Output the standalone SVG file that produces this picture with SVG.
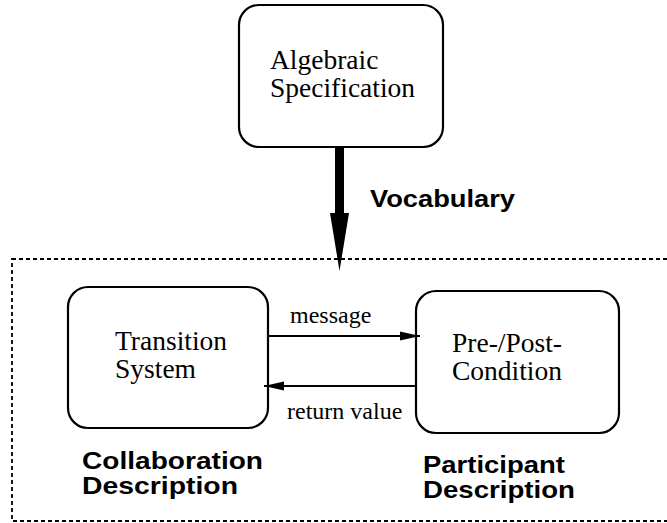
<svg xmlns="http://www.w3.org/2000/svg" width="667" height="523" viewBox="0 0 667 523">
<style>
.box{fill:#fff;stroke:#000;stroke-width:2.2}
.t{font-family:"Liberation Serif","Times New Roman",serif;font-size:27.5px;fill:#000}
.s{font-family:"Liberation Serif","Times New Roman",serif;font-size:24px;fill:#000}
.b{font-family:"Liberation Sans",Arial,sans-serif;font-size:24px;font-weight:bold;fill:#000}
.ln{stroke:#000;stroke-width:2;fill:none}
</style>
<defs>
<marker id="ah" markerWidth="20" markerHeight="10" refX="20" refY="5" orient="auto" markerUnits="userSpaceOnUse">
<path d="M0,0.5 L20,5 L0,9.5 Z" fill="#000"/>
</marker>
</defs>
<rect x="12" y="259" width="680" height="262" fill="none" stroke="#000" stroke-width="1.8" stroke-dasharray="4 3"/>
<g id="algebraic">
<rect class="box" x="239" y="5" width="204" height="142" rx="20"/>
<text class="t" x="270" y="69">Algebraic</text>
<text class="t" x="270" y="97">Specification</text>
</g>
<g id="transition">
<rect class="box" x="68" y="287" width="200" height="141" rx="20"/>
<text class="t" x="115" y="350">Transition</text>
<text class="t" x="115" y="378">System</text>
</g>
<g id="prepost">
<rect class="box" x="416" y="291" width="203" height="142" rx="20"/>
<text class="t" x="452" y="352">Pre-/Post-</text>
<text class="t" x="452" y="380">Condition</text>
</g>
<g id="connectors">
<path d="M335,147 L344,147 L344,213 L349,213 L339.5,271 L330,213 L335,213 Z" fill="#000"/>
<line class="ln" x1="268" y1="336" x2="420" y2="336" marker-end="url(#ah)"/>
<line class="ln" x1="416" y1="386" x2="264" y2="386" marker-end="url(#ah)"/>
</g>
<g id="labels">
<text class="b" x="370" y="207" textLength="145" lengthAdjust="spacingAndGlyphs">Vocabulary</text>
<text class="s" x="290" y="323">message</text>
<text class="s" x="287" y="419">return value</text>
<text class="b" x="82" y="469" textLength="181" lengthAdjust="spacingAndGlyphs">Collaboration</text>
<text class="b" x="82" y="494" textLength="156" lengthAdjust="spacingAndGlyphs">Description</text>
<text class="b" x="423" y="473" textLength="142" lengthAdjust="spacingAndGlyphs">Participant</text>
<text class="b" x="423" y="498" textLength="152" lengthAdjust="spacingAndGlyphs">Description</text>
</g>
</svg>
